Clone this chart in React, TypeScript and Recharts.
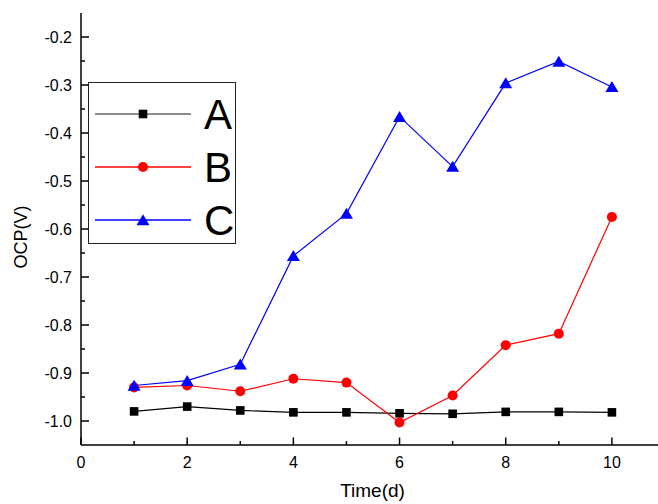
import React from 'react';
import { LineChart, Line, XAxis, YAxis, Legend } from 'recharts';

const days = [1, 2, 3, 4, 5, 6, 7, 8, 9, 10];
const seriesA = [-0.980, -0.970, -0.978, -0.982, -0.982, -0.984, -0.985, -0.981, -0.981, -0.982];
const seriesB = [-0.930, -0.926, -0.938, -0.912, -0.920, -1.003, -0.947, -0.842, -0.818, -0.575];
const seriesC = [-0.926, -0.916, -0.882, -0.656, -0.568, -0.366, -0.470, -0.296, -0.251, -0.304];

const xMajorTicks = [0, 2, 4, 6, 8, 10];
const xMinorTicks = [1, 3, 5, 7, 9, 11];
const yMajorTicks = [-1.0, -0.9, -0.8, -0.7, -0.6, -0.5, -0.4, -0.3, -0.2];
const yMinorTicks = [-0.95, -0.85, -0.75, -0.65, -0.55, -0.45, -0.35, -0.25];

const seriesNames = ['A', 'B', 'C'];
const seriesColors = ['#000000', '#ff0000', '#0000ff'];
const seriesShapes = ['square', 'circle', 'triangle'];

const data = days.map((d, i) => ({ x: d, A: seriesA[i], B: seriesB[i], C: seriesC[i] }));

const FONT = 'Arial, "Liberation Sans", sans-serif';

const isIn = (arr: number[], v: number) => arr.some((t) => Math.abs(t - v) < 1e-6);

function Marker({ shape, cx, cy, color }: { shape: string; cx: number; cy: number; color: string }) {
  if (shape === 'square') {
    return <rect x={cx - 4.3} y={cy - 4.3} width={8.6} height={8.6} fill={color} />;
  }
  if (shape === 'circle') {
    return <circle cx={cx} cy={cy} r={5} fill={color} />;
  }
  return (
    <polygon
      points={`${cx},${cy - 5.8} ${cx - 6.5},${cy + 5.2} ${cx + 6.5},${cy + 5.2}`}
      fill={color}
    />
  );
}

const makeDot = (shape: string, color: string) => (props: any) => {
  const { cx, cy, index } = props;
  if (cx == null || cy == null) return <g key={`d-${shape}-${index}`} />;
  return (
    <g key={`d-${shape}-${index}`}>
      <Marker shape={shape} cx={cx} cy={cy} color={color} />
    </g>
  );
};

const BottomTick = (props: any) => {
  const { x, y, payload } = props;
  const v = payload.value;
  const major = isIn(xMajorTicks, v);
  return (
    <g>
      <line x1={x} x2={x} y1={y} y2={y - (major ? 7.5 : 4)} stroke="#000" strokeWidth={1.5} />
      {major && (
        <text x={x} y={y + 23} textAnchor="middle" fontSize={16} fontFamily={FONT} fill="#000">
          {v}
        </text>
      )}
    </g>
  );
};

const TopTick = (props: any) => {
  const { x, y, payload } = props;
  const major = isIn(xMajorTicks, payload.value);
  return <line x1={x} x2={x} y1={y} y2={y + (major ? 7.5 : 4)} stroke="#000" strokeWidth={1.5} />;
};

const LeftTick = (props: any) => {
  const { x, y, payload } = props;
  const v = payload.value;
  const major = isIn(yMajorTicks, v);
  return (
    <g>
      <line x1={x} x2={x + (major ? 8 : 4)} y1={y} y2={y} stroke="#000" strokeWidth={1.5} />
      {major && (
        <text x={x - 9} y={y + 6} textAnchor="end" fontSize={16} fontFamily={FONT} fill="#000">
          {v.toFixed(1)}
        </text>
      )}
    </g>
  );
};

const RightTick = (props: any) => {
  const { x, y, payload } = props;
  const major = isIn(yMajorTicks, payload.value);
  return <line x1={x} x2={x - (major ? 8 : 4)} y1={y} y2={y} stroke="#000" strokeWidth={1.5} />;
};

const LegendBox = (props: any) => {
  const payload = (props.payload || []) as any[];
  const rowsY = [32, 85, 138];
  return (
    <svg width={148} height={162} style={{ display: 'block' }}>
      <rect x={0.5} y={0.5} width={147} height={161} fill="#fff" stroke="#222" strokeWidth={1} />
      {payload.map((entry: any, i: number) => {
        const idx = seriesNames.indexOf(String(entry.value));
        const color = entry.color || seriesColors[idx];
        const ry = rowsY[i];
        return (
          <g key={`lg-${i}`}>
            <line x1={7} x2={103} y1={ry} y2={ry} stroke={idx === 0 ? '#666' : color} strokeWidth={1.3} />
            <Marker shape={seriesShapes[idx]} cx={55} cy={ry} color={color} />
            <text x={116} y={ry + 15} fontSize={42} fontFamily={FONT} fill="#000">
              {entry.value}
            </text>
          </g>
        );
      })}
    </svg>
  );
};

export default function App() {
  return (
    <div
      style={{
        position: 'fixed',
        left: 0,
        top: 0,
        width: 658,
        height: 504,
        overflow: 'hidden',
        background: '#fff',
      }}
    >
      <LineChart
        width={680}
        height={504}
        data={data}
        margin={{ top: 13, right: 15, bottom: 0, left: 0 }}
      >
        <XAxis
          dataKey="x"
          type="number"
          domain={[0, 11]}
          ticks={[...xMajorTicks, ...xMinorTicks].sort((a, b) => a - b)}
          interval={0}
          height={59}
          tickSize={0}
          tickMargin={0}
          tickLine={false}
          axisLine={{ stroke: '#000', strokeWidth: 1.5 }}
          tick={<BottomTick />}
          allowDataOverflow
        />
        <XAxis
          xAxisId="top"
          orientation="top"
          dataKey="x"
          type="number"
          domain={[0, 11]}
          ticks={[...xMajorTicks, ...xMinorTicks].sort((a, b) => a - b)}
          interval={0}
          height={0}
          tickSize={0}
          tickMargin={0}
          tickLine={false}
          axisLine={{ stroke: '#000', strokeWidth: 1.5 }}
          tick={<TopTick />}
          allowDataOverflow
        />
        <YAxis
          type="number"
          domain={[-1.05, -0.15]}
          ticks={[...yMajorTicks, ...yMinorTicks].sort((a, b) => a - b)}
          interval={0}
          width={81}
          tickSize={0}
          tickMargin={0}
          tickLine={false}
          axisLine={{ stroke: '#000', strokeWidth: 1.5 }}
          tick={<LeftTick />}
          allowDataOverflow
        />
        <YAxis
          yAxisId="right"
          orientation="right"
          type="number"
          domain={[-1.05, -0.15]}
          ticks={[...yMajorTicks, ...yMinorTicks].sort((a, b) => a - b)}
          interval={0}
          width={0}
          tickSize={0}
          tickMargin={0}
          tickLine={false}
          axisLine={{ stroke: '#000', strokeWidth: 1.5 }}
          tick={<RightTick />}
          allowDataOverflow
        />
        <Legend
          layout="vertical"
          align="center"
          verticalAlign="middle"
          content={<LegendBox />}
          wrapperStyle={{ left: 88, top: 82, width: 148, height: 162 }}
        />
        {seriesNames.map((name, i) => (
          <Line
            key={name}
            dataKey={name}
            name={name}
            type="linear"
            stroke={seriesColors[i]}
            strokeWidth={1.2}
            dot={makeDot(seriesShapes[i], seriesColors[i])}
            activeDot={false}
            isAnimationActive={false}
          />
        ))}
        <text
          x={372.5}
          y={497}
          textAnchor="middle"
          fontSize={19}
          fontFamily={FONT}
          fill="#000"
        >
          Time(d)
        </text>
        <text
          x={27}
          y={237}
          textAnchor="middle"
          fontSize={18}
          fontFamily={FONT}
          fill="#000"
          transform="rotate(-90 27 237)"
        >
          OCP(V)
        </text>
      </LineChart>
    </div>
  );
}
